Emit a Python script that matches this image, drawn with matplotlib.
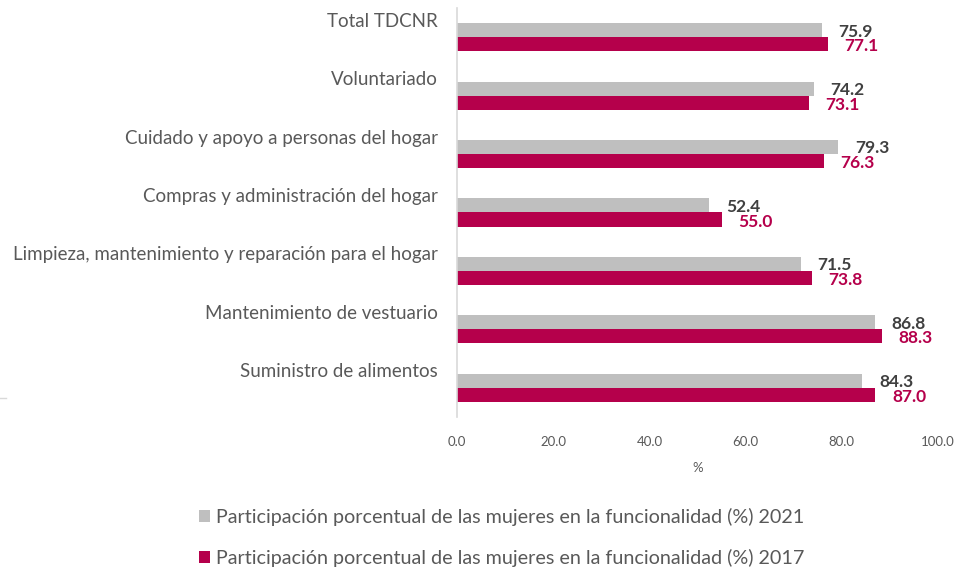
import numpy as np
import matplotlib
matplotlib.use("Agg")
import matplotlib.pyplot as plt
from matplotlib.lines import Line2D

# --- data ---
categories = [
    "Total TDCNR",
    "Voluntariado",
    "Cuidado y apoyo a personas del hogar",
    "Compras y administración del hogar",
    "Limpieza, mantenimiento y reparación para el hogar",
    "Mantenimiento de vestuario",
    "Suministro de alimentos",
]
vals_2021 = [75.9, 74.2, 79.3, 52.4, 71.5, 86.8, 84.3]
vals_2017 = [77.1, 73.1, 76.3, 55.0, 73.8, 88.3, 87.0]
label_2021 = "Participación porcentual de las mujeres en la funcionalidad (%) 2021"
label_2017 = "Participación porcentual de las mujeres en la funcionalidad (%) 2017"
xticks = [0, 20, 40, 60, 80, 100]

GRAY = "#BFBFBF"
CRIMSON = "#B5004B"
TXT = "#595959"

plt.rcParams["font.family"] = ["Lato", "DejaVu Sans"]

W, H = 959, 568
fig = plt.figure(figsize=(W / 100, H / 100), dpi=100)
ax = fig.add_axes([457 / W, 1 - 417 / H, (938 - 457) / W, (417 - 8) / H])

y = np.arange(len(categories))
bh = 0.24
b1 = ax.barh(y - bh / 2, vals_2021, height=bh, color=GRAY, label=label_2021)
b2 = ax.barh(y + bh / 2, vals_2017, height=bh, color=CRIMSON, label=label_2017)

for yi, v in zip(y, vals_2021):
    ax.annotate(f"{v:.1f}", (v, yi - bh / 2), xytext=(12, -1), textcoords="offset points",
                ha="left", va="center", fontsize=12.5, fontweight="bold", color="#404040")
for yi, v in zip(y, vals_2017):
    ax.annotate(f"{v:.1f}", (v, yi + bh / 2), xytext=(12, -1.5), textcoords="offset points",
                ha="left", va="center", fontsize=12.5, fontweight="bold", color=CRIMSON)

ax.set_xlim(0, 100)
ax.set_ylim(len(categories) - 0.5, -0.5)
ax.set_xticks(xticks)
ax.set_xticklabels([f"{t:.1f}" for t in xticks], fontsize=9.5, color=TXT)
# category labels sit a bit above the bar pair
ax.set_yticks(y - 0.3)
ax.set_yticklabels(categories, fontsize=13.5, color=TXT)
ax.tick_params(axis="x", length=0, pad=14)
ax.tick_params(axis="y", length=0, pad=14)
ax.set_xlabel("%", fontsize=9.5, color=TXT, labelpad=10)

for s in ["top", "right", "bottom"]:
    ax.spines[s].set_visible(False)
ax.spines["left"].set_color("#D9D9D9")
ax.spines["left"].set_linewidth(1.2)

fig.legend(handles=[b1, b2], loc="upper left", bbox_to_anchor=(199 / W, 1 - 508 / H),
           frameon=False, fontsize=14.2, labelcolor=TXT, ncol=1,
           handlelength=0.55, handleheight=0.55, handletextpad=0.3,
           borderpad=0, borderaxespad=0, labelspacing=1.15)

fig.add_artist(Line2D([0, 6 / W], [1 - 398 / H, 1 - 398 / H], color="#D9D9D9", lw=1,
                      transform=fig.transFigure))

fig.savefig("out.png", dpi=100)
